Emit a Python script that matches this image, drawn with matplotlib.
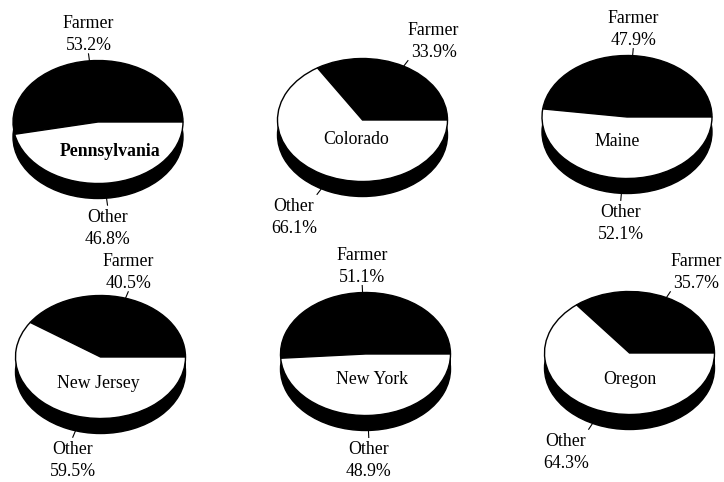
import numpy as np
import matplotlib
matplotlib.use('Agg')
import matplotlib.pyplot as plt
from matplotlib.patches import Rectangle

# ---- data ----
states = ['Pennsylvania', 'Colorado', 'Maine', 'New Jersey', 'New York', 'Oregon']
farmer_pct = [53.2, 33.9, 47.9, 40.5, 51.1, 35.7]
other_pct = [46.8, 66.1, 52.1, 59.5, 48.9, 64.3]
slice_labels = ['Farmer', 'Other']
bold_state = 'Pennsylvania'

# ---- layout (pixels) ----
W, H = 724, 482
centers = [(98, 122), (362.5, 120), (627, 117), (100.5, 357), (365.5, 354), (629.5, 353)]
name_offsets = [(12, 30), (-6, 20), (-10, 25), (-2, 26), (6.5, 25), (0, 27)]
A, B, D = 85.0, 61.5, 15.0   # semi-axes and rim depth in px
CELL = 240
LEAD = 7
FS = 12.8

plt.rcParams['font.family'] = ['Liberation Serif', 'DejaVu Serif']
fig = plt.figure(figsize=(7.24, 4.82), dpi=100)
fig.patch.set_facecolor('white')

for i, state in enumerate(states):
    cx, cy = centers[i]
    ax = fig.add_axes([(cx - CELL / 2) / W, 1 - (cy + CELL / 2) / H, CELL / W, CELL / H])
    vals = [farmer_pct[i], other_pct[i]]
    # side rim of the 3-D pie
    ax.pie([1], colors=['black'], center=(0, -D / B), radius=1,
           wedgeprops=dict(edgecolor='black', linewidth=1))
    ax.add_patch(Rectangle((-1, -D / B), 2, D / B, facecolor='black',
                           edgecolor='none', lw=0))
    res = ax.pie(vals, colors=['black', 'white'], startangle=0, counterclock=True,
                 radius=1, wedgeprops=dict(edgecolor='black', linewidth=1))
    wedges = res[0]
    ax.set_aspect('auto')
    ax.set_xlim(-CELL / 2 / A, CELL / 2 / A)
    ax.set_ylim(-CELL / 2 / B, CELL / 2 / B)
    ax.axis('off')

    # slice labels with leader lines
    for j, w in enumerate(wedges):
        mid = np.deg2rad((w.theta1 + w.theta2) / 2)
        c, s = np.cos(mid), np.sin(mid)
        sx, sy = A * c, B * s          # px, y up
        if s < 0:
            sy -= D
        psi = np.arctan2(B * s, A * c)
        ex, ey = sx + LEAD * np.cos(psi), sy + LEAD * np.sin(psi)
        ax.plot([sx / A, ex / A], [sy / B, ey / B], color='black', lw=0.8,
                clip_on=False)
        if c > 0.35:
            ha = 'left'
        elif c < -0.35:
            ha = 'right'
        else:
            ha = 'center'
        if s >= 0:
            va, ty = 'bottom', ey + 0
        else:
            va, ty = 'top', ey - 4
        txt = f"{slice_labels[j]}\n{vals[j]:.1f}%"
        ax.text(ex / A, ty / B, txt, ha=ha, va=va, multialignment='center',
                fontsize=FS, color='black', clip_on=False, linespacing=1.35)

    ox, oy = name_offsets[i]
    ax.text(ox / A, -oy / B, state, ha='center', va='center', fontsize=FS,
            fontweight='bold' if state == bold_state else 'normal', color='black')

fig.savefig('out.png', dpi=100, facecolor='white')
